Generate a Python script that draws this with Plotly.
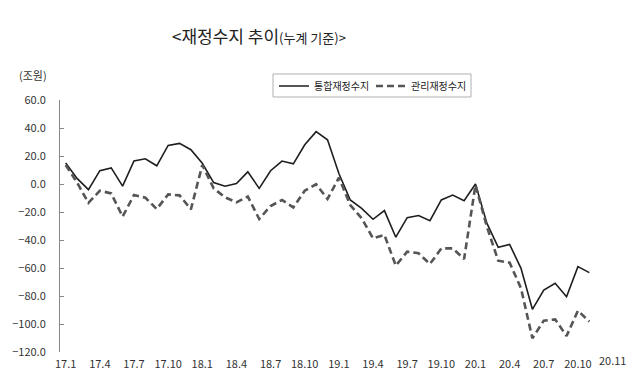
import plotly.graph_objects as go

months = [f"{y}.{m}" for y in (17, 18, 19, 20) for m in range(1, 13)][:47]

integrated = [15, 4, -4, 9.5, 11.5, -1.5, 16.4, 18, 13, 27.6, 29, 24.5, 14.8,
              1, -1.6, 0.4, 8.7, -3.1, 9.5, 16.4, 14.4, 28, 37.4, 31.6, 7.5,
              -11.4, -17.4, -25.2, -19, -38, -24, -22.5, -26.2, -11.4, -7.9, -11.9, 0,
              -28, -45.2, -43.2, -60.2, -89.5, -75.7, -70.9, -80.5, -59, -63.3]

managed = [13.6, 1, -13.5, -4.8, -6.7, -23.3, -7.9, -9.8, -17.9, -7.4, -8.1, -18.1, 13.6,
           -3.1, -9.5, -13.1, -9, -25, -15.7, -11.4, -16.7, -4.8, -0.2, -10.7, 4.5,
           -15, -24.5, -38.8, -36.4, -58.3, -48.3, -49.5, -57.1, -46, -46, -53.6, -0.7,
           -30.5, -54.8, -56.2, -74.5, -110.2, -97.6, -96.7, -108.6, -90.5, -98.3]

tick_months = months[::3]
tick_labels = tick_months

title_main = "&lt;재정수지 추이"
title_sub = "(누계 기준)&gt;"
unit_label = "(조원)"
names = ["통합재정수지", "관리재정수지"]
last_label = "20.11"

FONT = "Noto Sans CJK KR, Noto Sans, sans-serif"

# plot area in pixels: left 60, right 595, top 100, bottom 352
PL, PW, PB, PH = 60, 535, 352, 252
def px(x):
    return (x - PL) / PW
def py(y):
    return (PB - y) / PH

fig = go.Figure()
fig.add_trace(go.Scatter(x=months, y=integrated, mode="lines", name=names[0],
                         line=dict(color="#1e1e1e", width=1.6)))
fig.add_trace(go.Scatter(x=months, y=managed, mode="lines", name=names[1],
                         line=dict(color="#555555", width=2.6, dash="7px,4px")))

fig.update_layout(
    width=640, height=379,
    margin=dict(l=60, r=45, t=100, b=27, autoexpand=False),
    paper_bgcolor="white", plot_bgcolor="white",
    font=dict(family=FONT, size=11, color="#333333"),
    showlegend=True,
    legend=dict(orientation="h", x=px(274), y=py(86), xanchor="left", yanchor="middle",
                borderwidth=0, bgcolor="rgba(0,0,0,0)",
                font=dict(size=10, color="#222222"), itemwidth=30,
                entrywidth=52, tracegroupgap=0),
    xaxis=dict(type="category", range=[-0.5, 46.5], showline=False, ticks="",
               showgrid=False, zeroline=False, automargin=False,
               tickmode="array", tickvals=tick_months, ticktext=tick_labels,
               ticklabelstandoff=4,
               tickangle=0, tickfont=dict(size=11, color="#333333")),
    xaxis2=dict(overlaying="x", anchor="free", position=120 / 180, side="top",
                range=[-0.5, 46.5], showline=True, linecolor="#999999", linewidth=1.5,
                ticks="outside", ticklen=3, tickcolor="#999999", tickwidth=1,
                tickmode="linear", tick0=-0.5, dtick=1, showticklabels=False,
                showgrid=False, zeroline=False, automargin=False),
    yaxis=dict(range=[-120, 60], dtick=20, tickformat=".1f", showgrid=False,
               zeroline=False, showline=True, linecolor="#888888", linewidth=1,
               ticks="inside", ticklen=4, tickcolor="#888888", automargin=False,
               ticklabelstandoff=11, tickfont=dict(size=11, color="#333333")),
)

fig.add_shape(type="rect", xref="paper", yref="paper",
              x0=px(273), x1=px(471), y0=py(97), y1=py(74),
              line=dict(color="#b0b0b0", width=1), fillcolor="rgba(0,0,0,0)")

fig.add_annotation(text=f"{title_main}<span style='font-size:13px'>{title_sub}</span>",
                   xref="paper", yref="paper", x=px(259), y=py(35),
                   xanchor="center", yanchor="middle", showarrow=False,
                   font=dict(size=17, color="#222222", family=FONT))
fig.add_annotation(text=unit_label, xref="paper", yref="paper",
                   x=px(33), y=py(75),
                   xanchor="center", yanchor="middle", showarrow=False,
                   font=dict(size=11, color="#333333", family=FONT))
fig.add_annotation(text=last_label, xref="paper", yref="paper",
                   x=(48 + 0.5) / 47, y=py(360),
                   xanchor="center", yanchor="middle", showarrow=False,
                   font=dict(size=11, color="#333333", family=FONT))

fig.write_html("out.html", config={"displayModeBar": False},
               post_script="document.body.style.margin='0';")
